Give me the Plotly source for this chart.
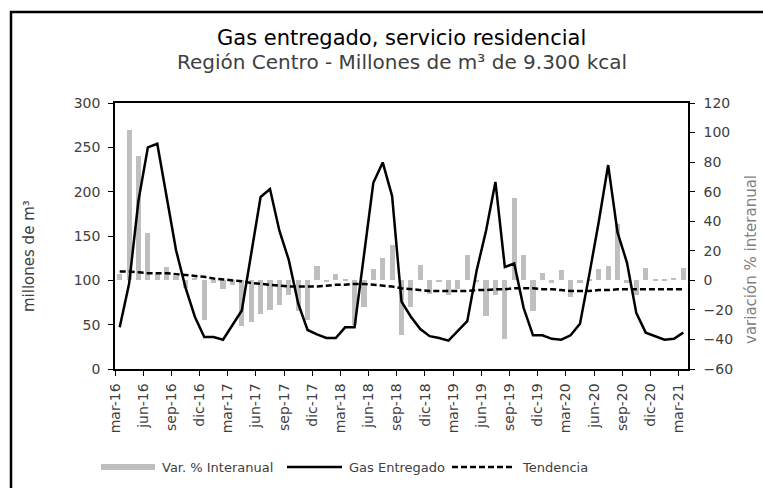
import plotly.graph_objects as go

# Monthly periods, mar-16 .. mar-21
meses = ["ene", "feb", "mar", "abr", "may", "jun", "jul", "ago", "sep", "oct", "nov", "dic"]
periodos = [f"{meses[(2 + k) % 12]}-{16 + (2 + k) // 12}" for k in range(61)]

# Gas entregado (millones de m3 de 9.300 kcal)
gas_entregado = [
    47, 96, 190, 250, 254, 194, 134, 92, 59, 36, 36, 33,
    49, 66, 130, 194, 203, 156, 123, 74, 44, 39, 35, 35,
    47, 47, 128, 210, 233, 195, 76, 59, 45, 37, 35, 32,
    43, 54, 111, 156, 211, 115, 119, 69, 38, 38, 34, 33,
    38, 51, 107, 166, 230, 154, 120, 63, 41, 37, 33, 34,
    41,
]

# Variacion % interanual
var_interanual = [
    4, 102, 84, 32, 4, 9, 3, -5, 1.5, -27, -2, -6,
    -3, -31, -28, -23, -20, -17, -10, -21, -27, 9.5, -1, 4,
    0.5, -30, -18, 8, 15, 24, -37, -18, 10.5, -9, -1, -10,
    -6, 17, -1, -24, -10, -40, 56, 17, -21, 5, -2, 7,
    -11, -2, 1, 8, 9.5, 38, -2, -10, 8.5, 0.5, 0.5, 1.5,
    8.5,
]

# Tendencia
tendencia = [
    110, 110, 109, 108, 108, 108, 107, 106, 105, 104, 102, 101,
    100, 99, 97, 96, 95, 94, 93, 93, 93, 93, 94, 95,
    95, 96, 96, 95, 94, 93, 91, 90, 89, 88, 88, 88,
    88, 88, 89, 89, 90, 90, 91, 91, 91, 90, 90, 89,
    88, 88, 88, 89, 89, 90, 90, 90, 90, 90, 90, 90,
    90,
]

etiquetas_x = [
    "mar-16", "jun-16", "sep-16", "dic-16", "mar-17", "jun-17", "sep-17",
    "dic-17", "mar-18", "jun-18", "sep-18", "dic-18", "mar-19", "jun-19",
    "sep-19", "dic-19", "mar-20", "jun-20", "sep-20", "dic-20", "mar-21",
]

x = list(range(len(periodos)))
# ticks sit on the left boundary of each labelled month
tick_pos = [periodos.index(e) - 0.5 for e in etiquetas_x]

FONT = "DejaVu Sans"
GRAY_TXT = "#404040"

# page geometry (pixels) and helpers to convert to paper coordinates
FIG_W, FIG_H = 763, 488
ML, MR, MT, MB = 115, 75, 103, 119
PW, PH = FIG_W - ML - MR, FIG_H - MT - MB


def px_x(p):
    return (p - ML) / PW


def px_y(p):
    return (FIG_H - MB - p) / PH


fig = go.Figure()

fig.add_trace(go.Bar(
    x=x, y=var_interanual, yaxis="y", width=0.55,
    marker=dict(color="#bfbfbf", line=dict(width=0)),
    name="Var. % Interanual", showlegend=False,
))
fig.add_trace(go.Scatter(
    x=x, y=gas_entregado, yaxis="y2", mode="lines",
    line=dict(color="black", width=2.5),
    name="Gas Entregado", showlegend=False,
))
fig.add_trace(go.Scatter(
    x=x, y=tendencia, yaxis="y2", mode="lines",
    line=dict(color="black", width=2.5, dash="6px,3px"),
    name="Tendencia", showlegend=False,
))

axis_common = dict(
    showgrid=False, zeroline=False, showline=True, linecolor="black",
    linewidth=1.5, ticks="outside", ticklen=5, tickwidth=1.2,
    tickcolor="black", tickfont=dict(family=FONT, size=14, color=GRAY_TXT),
)

fig.update_layout(
    width=FIG_W, height=FIG_H,
    margin=dict(l=ML, r=MR, t=MT, b=MB),
    paper_bgcolor="white", plot_bgcolor="white",
    bargap=0,
    xaxis=dict(
        range=[-0.5, len(x) - 0.5], tickmode="array", tickvals=tick_pos,
        ticktext=etiquetas_x, tickangle=-90, mirror=True, ticklabelstandoff=2,
        **axis_common,
    ),
    yaxis=dict(
        side="right", range=[-60, 120], dtick=20, ticklabelstandoff=6,
        **axis_common,
    ),
    yaxis2=dict(
        side="left", overlaying="y", range=[0, 300], dtick=50,
        ticklabelstandoff=5, **axis_common,
    ),
)

annotations = [
    dict(text="Gas entregado, servicio residencial", x=0.5, y=px_y(38),
         font=dict(family=FONT, size=21, color="black")),
    dict(text="Región Centro - Millones de m³ de 9.300 kcal", x=0.5, y=px_y(62),
         font=dict(family=FONT, size=20, color=GRAY_TXT)),
    dict(text="millones de m³", x=px_x(29), y=px_y(256), textangle=-90,
         font=dict(family=FONT, size=15, color=GRAY_TXT)),
    dict(text="variación % interanual", x=px_x(751), y=px_y(260), textangle=-90,
         font=dict(family=FONT, size=15, color="#808080")),
]
for a in annotations:
    a.update(xref="paper", yref="paper", showarrow=False,
             xanchor="center", yanchor="middle")

# legend built from shapes and labels
LEG_Y = 467
legend_items = [
    ("Var. % Interanual", 101, 155, 160),
    ("Gas Entregado", 287, 342, 347),
    ("Tendencia", 452, 512, 520),
]
for label, _, _, tx in legend_items:
    annotations.append(dict(
        text=label, x=px_x(tx), y=px_y(LEG_Y), xref="paper", yref="paper",
        showarrow=False, xanchor="left", yanchor="middle",
        font=dict(family=FONT, size=13, color=GRAY_TXT),
    ))
fig.update_layout(annotations=annotations)

shapes = [
    # outer chart frame (top and left edges)
    dict(type="rect", xref="paper", yref="paper",
         x0=px_x(11), x1=px_x(FIG_W + 20), y0=px_y(FIG_H + 20), y1=px_y(12),
         line=dict(color="black", width=2.5), layer="above"),
    dict(type="rect", xref="paper", yref="paper",
         x0=px_x(legend_items[0][1]), x1=px_x(legend_items[0][2]),
         y0=px_y(LEG_Y + 3), y1=px_y(LEG_Y - 3),
         fillcolor="#bfbfbf", line=dict(width=0)),
    dict(type="line", xref="paper", yref="paper",
         x0=px_x(legend_items[1][1]), x1=px_x(legend_items[1][2]),
         y0=px_y(LEG_Y), y1=px_y(LEG_Y),
         line=dict(color="black", width=2.5)),
    dict(type="line", xref="paper", yref="paper",
         x0=px_x(legend_items[2][1]), x1=px_x(legend_items[2][2]),
         y0=px_y(LEG_Y), y1=px_y(LEG_Y),
         line=dict(color="black", width=2.5, dash="6px,3px")),
]
fig.update_layout(shapes=shapes)

fig.write_html("out.html")
